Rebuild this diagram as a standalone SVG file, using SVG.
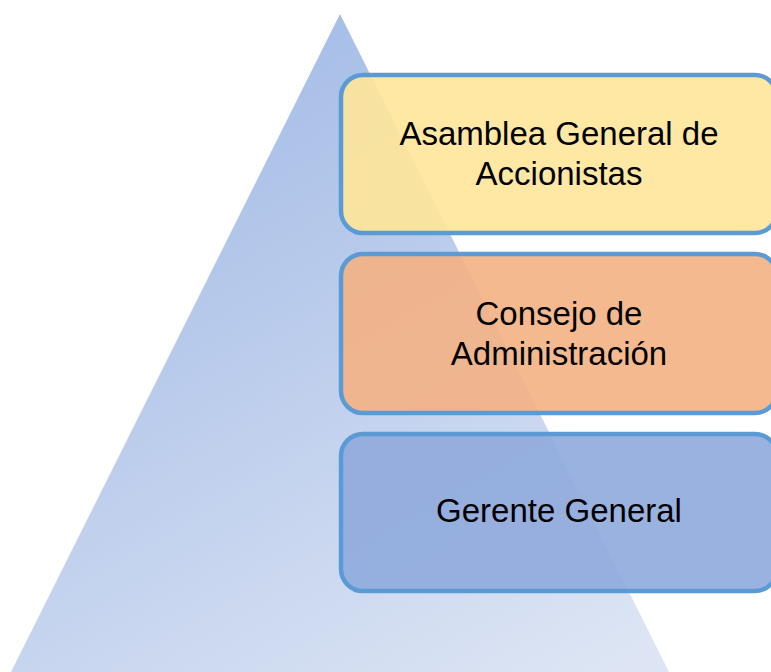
<svg xmlns="http://www.w3.org/2000/svg" width="771" height="672" viewBox="0 0 771 672">
  <defs>
    <linearGradient id="tri" gradientUnits="userSpaceOnUse" x1="250" y1="60" x2="600" y2="672">
      <stop offset="0" stop-color="#A7BEE7"/>
      <stop offset="1" stop-color="#DDE5F4"/>
    </linearGradient>
    <style>
      .box { stroke: #5B9BD5; stroke-width: 4.5; fill-opacity: 0.9; }
      .lbl { font-family: "Liberation Sans", Arial, sans-serif; font-size: 33px; fill: #000000; text-anchor: middle; }
    </style>
  </defs>
  <rect width="771" height="672" fill="#FFFFFF"/>
  <g id="pyramid">
    <polygon points="340,14 11,672 669,672" fill="url(#tri)"/>
  </g>
  <g id="connectors"/>
  <g id="node-asamblea">
    <rect class="box" x="341" y="75" width="436" height="158" rx="22" fill="#FFE699"/>
    <text class="lbl" x="559" y="145">Asamblea General de</text>
    <text class="lbl" x="559" y="185">Accionistas</text>
  </g>
  <g id="node-consejo">
    <rect class="box" x="341" y="254" width="436" height="159" rx="22" fill="#F4B183"/>
    <text class="lbl" x="559" y="325">Consejo de</text>
    <text class="lbl" x="559" y="365">Administración</text>
  </g>
  <g id="node-gerente">
    <rect class="box" x="341" y="434" width="436" height="157" rx="22" fill="#8FAADC"/>
    <text class="lbl" x="559" y="522">Gerente General</text>
  </g>
</svg>
